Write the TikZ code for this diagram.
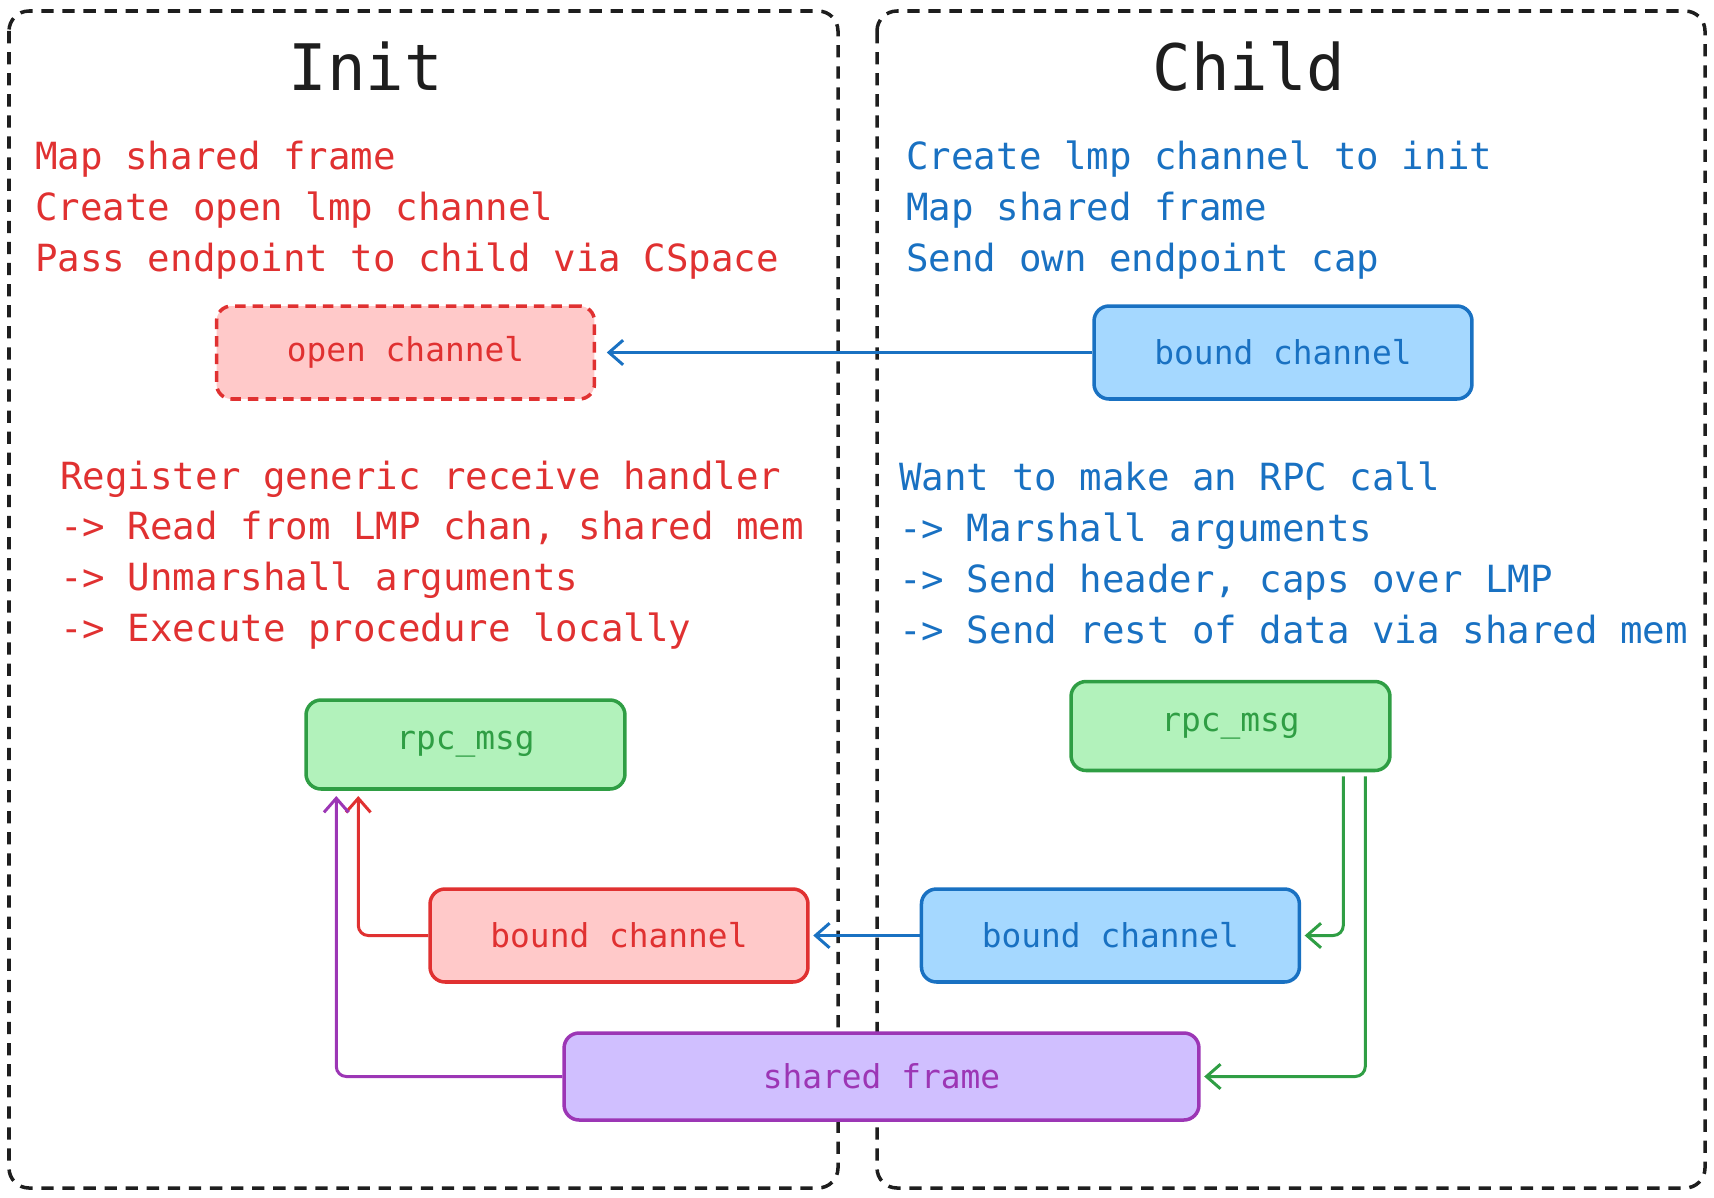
\documentclass[tikz,border=0pt]{standalone}
\usepackage{fontspec}
\setmonofont{DejaVu Sans Mono}
\usetikzlibrary{positioning,calc,arrows.meta}
\definecolor{redL}{HTML}{E03131}
\definecolor{redF}{HTML}{FFC9C9}
\definecolor{blueL}{HTML}{1971C2}
\definecolor{blueF}{HTML}{A5D8FF}
\definecolor{greenL}{HTML}{2F9E44}
\definecolor{greenF}{HTML}{B2F2BB}
\definecolor{purpL}{HTML}{9C36B5}
\definecolor{purpF}{HTML}{D0BFFF}
\definecolor{inkC}{HTML}{1E1E1E}
\begin{document}
\begin{tikzpicture}
  [x=0.02cm,y=-0.02cm,
   panel/.style={draw=inkC,line width=2pt,dashed,dash pattern=on 7pt off 5pt,rounded corners=0.4cm},
   title/.style={font=\ttfamily\fontsize{36.5}{40}\selectfont,text=inkC},
   notes/.style={anchor=west,inner sep=0pt,align=left,font=\ttfamily\fontsize{21.3}{29}\selectfont},
   boxN/.style={draw,line width=2pt,rounded corners=0.3cm,minimum width=7.56cm,minimum height=1.86cm,font=\ttfamily\fontsize{18.7}{22}\selectfont},
   redN/.style={boxN,draw=redL,fill=redF,text=redL},
   blueN/.style={boxN,draw=blueL,fill=blueF,text=blueL},
   greenN/.style={boxN,draw=greenL,fill=greenF,text=greenL,minimum width=6.38cm,minimum height=1.78cm},
   purpN/.style={boxN,draw=purpL,fill=purpF,text=purpL,minimum width=12.7cm,minimum height=1.74cm},
   arr/.style={line width=1.7pt,-{Straight Barb[length=8pt,width=14pt,line width=1.7pt]},rounded corners=0.2cm}]

  \useasboundingbox (0,0) rectangle (1714,1197);

  \draw[panel] (9,11) rectangle (838,1188);
  \draw[panel] (877,11) rectangle (1705,1188);

  \node[title] (init)  at (366,66)  {Init};
  \node[title] (child) at (1249,66) {Child};

  \node[notes,text=redL] (iset) at (35,210)
    {Map shared frame\\Create open lmp channel\\Pass endpoint to child via CSpace};
  \node[notes,text=blueL] (cset) at (906,210)
    {Create lmp channel to init\\Map shared frame\\Send own endpoint cap};

  \node[redN,dashed,dash pattern=on 6pt off 4pt] (open) at (405.5,352.5) {open channel};
  \node[blueN] (cbnd) at (1283,352.5) {bound channel};

  \node[notes,text=redL] (irecv) at (60,555)
    {Register generic receive handler\\-> Read from LMP chan, shared mem\\-> Unmarshall arguments\\-> Execute procedure locally};
  \node[notes,text=blueL] (csend) at (899,553)
    {Want to make an RPC call\\-> Marshall arguments\\-> Send header, caps over LMP\\-> Send rest of data via shared mem};

  \node[greenN] (rpcI) at (465.5,744.5) {rpc\_msg};
  \node[greenN] (rpcC) at (1230.5,726)  {rpc\_msg};

  \node[redN]  (ibnd)   at (619,935.5)    {bound channel};
  \node[blueN] (cbnd2)  [right=2.2cm of ibnd] {bound channel};
  \node[purpN] (shared) at (881.5,1076.5) {shared frame};

  \draw[arr,blueL,shorten >=6pt] (cbnd.west) -- (open.east);
  \draw[arr,blueL,shorten >=2pt] (cbnd2.west) -- (ibnd.east);
  \draw[arr,redL,shorten >=3pt] (ibnd.west) -| ($(rpcI.south west)+(54,0)$);
  \draw[arr,purpL,shorten >=3pt] (shared.west) -| ($(rpcI.south west)+(32,0)$);
  \draw[arr,greenL,shorten >=2pt] ($(rpcC.south west)+(274,4)$) |- (cbnd2.east);
  \draw[arr,greenL,shorten >=2pt] ($(rpcC.south west)+(296,4)$) |- (shared.east);
\end{tikzpicture}
\end{document}
